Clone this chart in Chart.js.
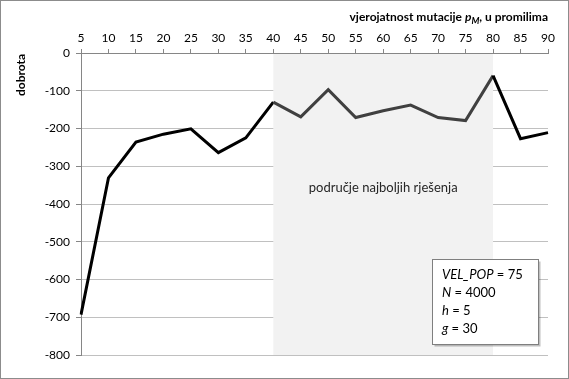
<!DOCTYPE html>
<html>
<head>
<meta charset="utf-8">
<script src="https://cdn.jsdelivr.net/npm/chart.js@4/dist/chart.umd.min.js"></script>
<style>
  html, body { margin: 0; padding: 0; background: #fff; }
  #wrap { width: 569px; height: 379px; }
</style>
</head>
<body>
<div id="wrap"><canvas id="chart" width="569" height="379"></canvas></div>
<script>
// data
const mutationRates = ['5', '10', '15', '20', '25', '30', '35', '40', '45', '50', '55', '60', '65', '70', '75', '80', '85', '90'];
const fitness = [-693, -331, -236, -215, -201, -264, -225, -130, -169, -97, -171, -153, -138, -171, -179, -60, -227, -211];
const yTicks = [0, -100, -200, -300, -400, -500, -600, -700, -800];
const bestFrom = '40';
const bestTo = '80';
const bestLabel = 'područje najboljih rješenja';
const params = [['VEL_POP', ' = 75'], ['N', ' = 4000'], ['h', ' = 5'], ['g', ' = 30']];

const FONT = 'Lato, "Open Sans", sans-serif';
const iFrom = mutationRates.indexOf(bestFrom);
const iTo = mutationRates.indexOf(bestTo);

// light grey band behind the line
const bandPlugin = {
    id: 'band',
    beforeDatasetsDraw(chart) {
        const { ctx, chartArea, scales } = chart;
        const x0 = scales.x.getPixelForValue(iFrom);
        const x1 = scales.x.getPixelForValue(iTo);
        ctx.save();
        ctx.fillStyle = '#f2f2f2';
        ctx.fillRect(x0, chartArea.top + 1, x1 - x0, chartArea.bottom - chartArea.top - 1);
        ctx.restore();
    },
    beforeDraw(chart) {
        const { ctx, width, height } = chart;
        ctx.save();
        ctx.fillStyle = '#fff';
        ctx.fillRect(0, 0, width, height);
        ctx.strokeStyle = '#8c8c8c';
        ctx.lineWidth = 1;
        ctx.strokeRect(0.5, 0.5, width - 1, height - 1);
        ctx.restore();
    }
};

// titles, band label, parameter box
const textPlugin = {
    id: 'texts',
    afterDraw(chart) {
        const { ctx, chartArea, scales } = chart;
        ctx.save();

        // top axis title with subscript
        ctx.fillStyle = '#000';
        ctx.textBaseline = 'alphabetic';
        const right = chartArea.right;
        const base = 21;
        const partA = 'vjerojatnost mutacije ';
        const partP = 'p';
        const partSub = 'M';
        const partB = ', u promilima';
        const fB = 'bold 12px ' + FONT;
        const fI = 'italic bold 12px ' + FONT;
        const fS = 'italic bold 9px ' + FONT;
        ctx.font = fB; const wA = ctx.measureText(partA).width, wB = ctx.measureText(partB).width;
        ctx.font = fI; const wP = ctx.measureText(partP).width;
        ctx.font = fS; const wS = ctx.measureText(partSub).width;
        let x = right - (wA + wP + wS + wB);
        ctx.textAlign = 'left';
        ctx.font = fB; ctx.fillText(partA, x, base); x += wA;
        ctx.font = fI; ctx.fillText(partP, x, base); x += wP;
        ctx.font = fS; ctx.fillText(partSub, x, base + 3); x += wS;
        ctx.font = fB; ctx.fillText(partB, x, base);

        // y axis title
        ctx.save();
        ctx.translate(25, 75);
        ctx.rotate(-Math.PI / 2);
        ctx.textAlign = 'center';
        ctx.font = 'bold 12px ' + FONT;
        ctx.fillText('dobrota', 0, 0);
        ctx.restore();

        // band label
        const xm = (scales.x.getPixelForValue(iFrom) + scales.x.getPixelForValue(iTo)) / 2;
        ctx.textAlign = 'center';
        ctx.font = '13px ' + FONT;
        ctx.fillStyle = '#262626';
        ctx.fillText(bestLabel, xm, 192);

        // parameter box
        const bx = 432.5, by = 259.5, bw = 106, bh = 85;
        ctx.fillStyle = 'rgba(0,0,0,0.25)';
        ctx.fillRect(bx + 2, by + 2, bw, bh);
        ctx.fillStyle = '#fff';
        ctx.fillRect(bx, by, bw, bh);
        ctx.strokeStyle = '#7f7f7f';
        ctx.lineWidth = 1;
        ctx.strokeRect(bx, by, bw, bh);
        ctx.fillStyle = '#000';
        ctx.textAlign = 'left';
        params.forEach((p, i) => {
            const yy = 279 + i * 18;
            ctx.font = 'italic 13px ' + FONT;
            ctx.fillText(p[0], 442, yy);
            const w = ctx.measureText(p[0]).width;
            ctx.font = '13px ' + FONT;
            ctx.fillText(p[1], 442 + w, yy);
        });

        ctx.restore();
    }
};

new Chart(document.getElementById('chart'), {
    type: 'line',
    data: {
        labels: mutationRates,
        datasets: [{
            data: fitness,
            borderColor: '#000',
            borderWidth: 3,
            pointRadius: 0,
            tension: 0,
            segment: {
                borderColor: c => (c.p0DataIndex >= iFrom && c.p1DataIndex <= iTo) ? '#404040' : '#000'
            }
        }]
    },
    options: {
        responsive: false,
        animation: false,
        layout: { padding: { left: 0, right: 21, top: 0, bottom: 24 } },
        plugins: { legend: { display: false }, tooltip: { enabled: false } },
        scales: {
            x: {
                position: 'top',
                offset: false,
                afterFit: s => { s.height = 53; },
                grid: { drawOnChartArea: false, drawTicks: true, tickLength: 4, color: '#868686' },
                border: { color: '#868686' },
                ticks: { color: '#000', font: { family: FONT, size: 12 }, padding: 4, maxRotation: 0, autoSkip: false }
            },
            y: {
                min: -800,
                max: 0,
                afterFit: s => { s.width = 81; },
                afterBuildTicks: s => { s.ticks = yTicks.map(v => ({ value: v })); },
                grid: { color: '#c0c0c0', tickLength: 5, tickColor: '#868686' },
                border: { color: '#868686' },
                ticks: { color: '#000', font: { family: FONT, size: 12 }, padding: 6 }
            }
        }
    },
    plugins: [bandPlugin, textPlugin]
});
</script>
</body>
</html>
